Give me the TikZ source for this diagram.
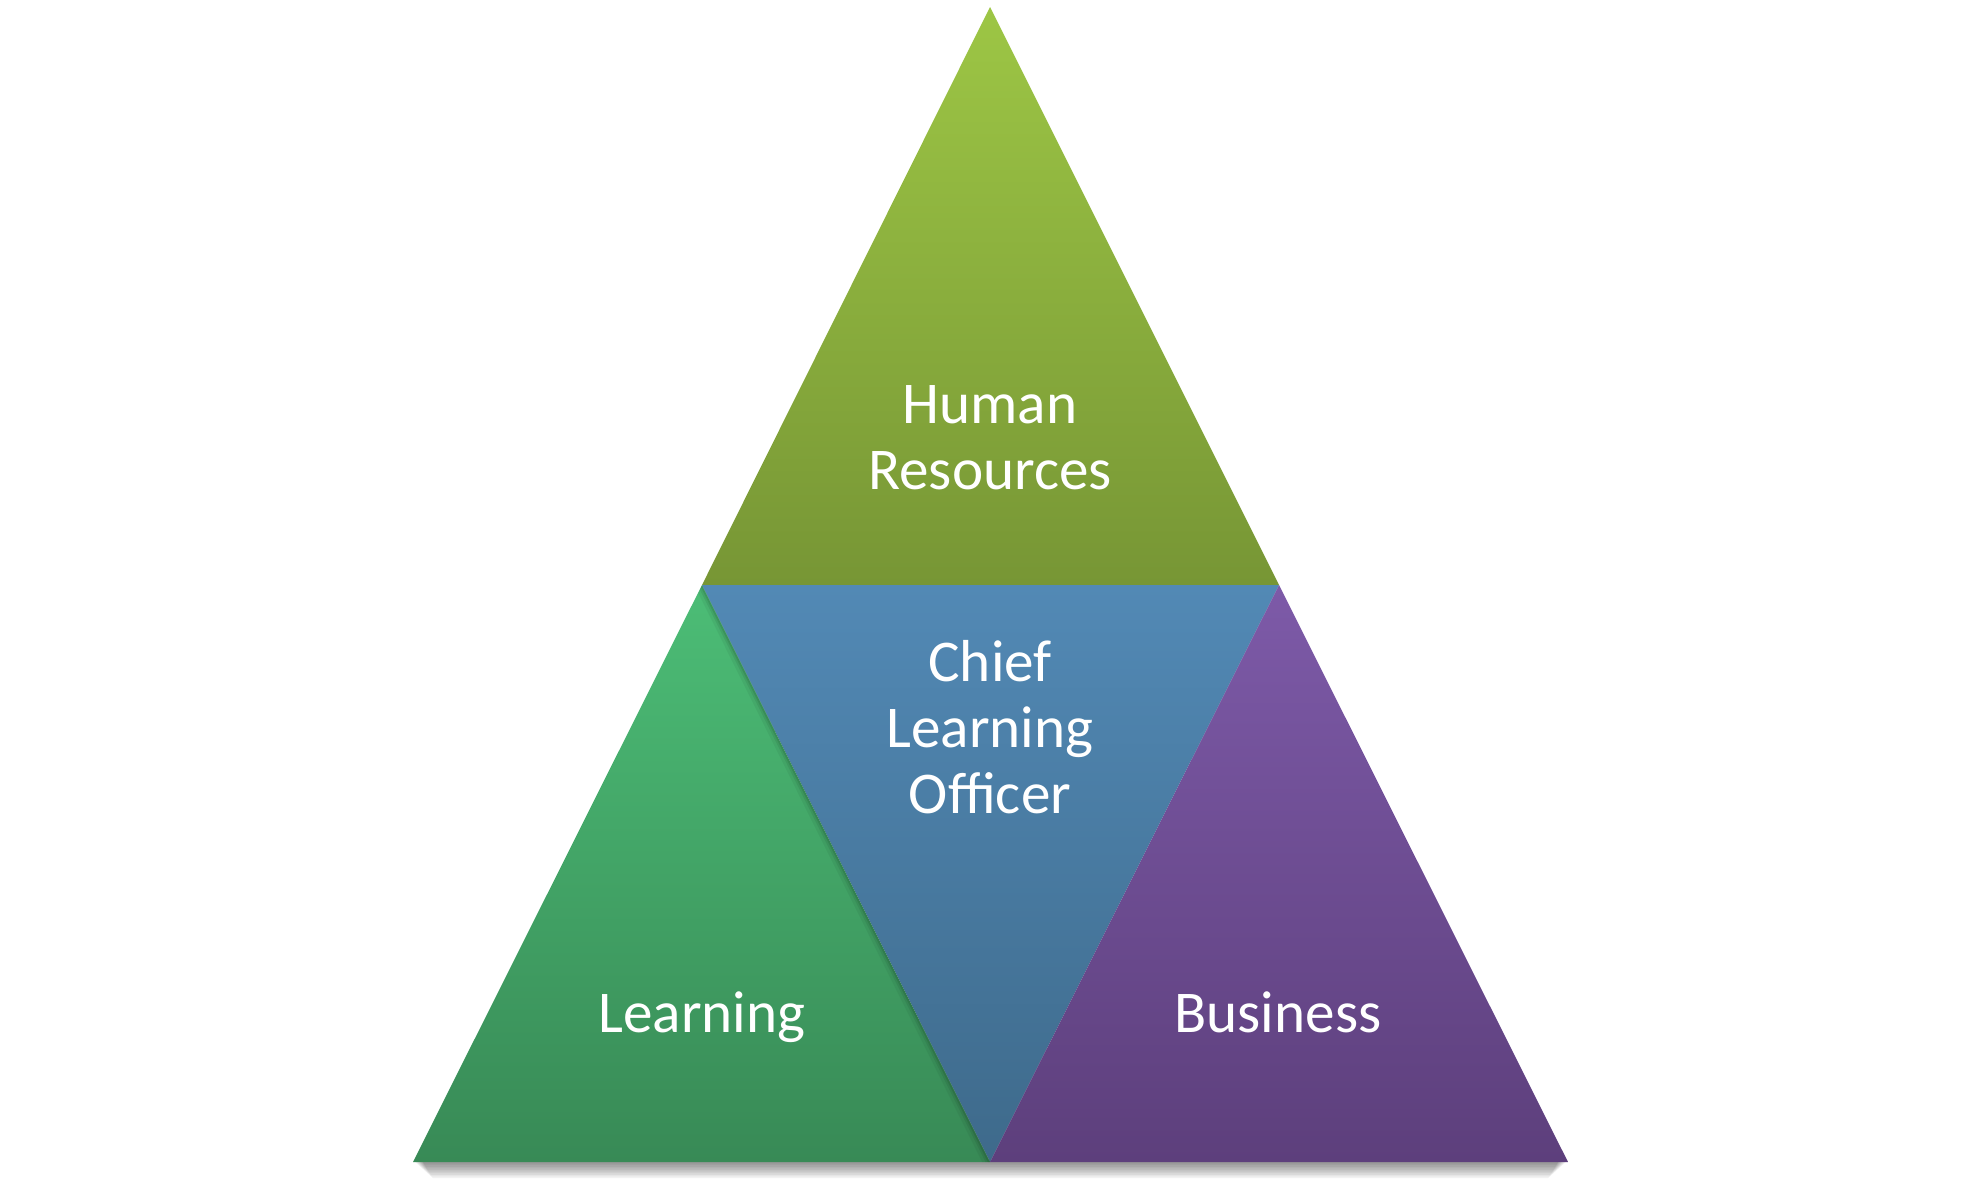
\documentclass[tikz,border=0pt]{standalone}
\usepackage{fontspec}
\setmainfont{Carlito}
\usetikzlibrary{fadings,calc}
\definecolor{hrTop}{HTML}{9DC645}
\definecolor{hrBot}{HTML}{779635}
\definecolor{cloTop}{HTML}{5289B5}
\definecolor{cloBot}{HTML}{3E6A8B}
\definecolor{lrTop}{HTML}{4CBD76}
\definecolor{lrBot}{HTML}{388A56}
\definecolor{bzTop}{HTML}{7D5AA8}
\definecolor{bzBot}{HTML}{5D3F7C}
\tikzset{
  lbl/.style={text=white, font=\fontsize{29.6}{33}\selectfont, align=center, inner sep=0pt},
}
\begin{document}
\begin{tikzpicture}[x=0.5pt,y=-0.5pt]
\useasboundingbox (0,0) rectangle (1980,1185);
\coordinate (A) at (990,7);
\coordinate (ML) at (702,585);
\coordinate (MR) at (1279,585);
\coordinate (BL) at (413,1162);
\coordinate (BM) at (990,1162);
\coordinate (BR) at (1568,1162);
% shadow
\foreach \i in {1,...,10}{
  \fill[black, opacity=0.05] ($(BL)+(10-\i,-2)$) -- ($(BR)+(-10+\i,-2)$) -- ++(-2*\i,1.6*\i+2) -- ($(BL)+(10+\i,1.6*\i)$) -- cycle;
}
% triangles
\shade[top color=hrTop, bottom color=hrBot] (A) -- (MR) -- (ML) -- cycle;
\shade[top color=cloTop, bottom color=cloBot] (ML) -- (MR) -- (BM) -- cycle;
\shade[top color=lrTop, bottom color=lrBot] (ML) -- (BM) -- (BL) -- cycle;
\shade[top color=bzTop, bottom color=bzBot] (MR) -- (BR) -- (BM) -- cycle;
% edge shadow on learning triangle
\begin{scope}
\clip (ML) -- (BM) -- (BL) -- cycle;
\foreach \w/\o in {14/0.05,8/0.07,4/0.09}{
  \draw[black, opacity=\o, line width=\w*0.5pt] (ML) -- (BM);
}
\end{scope}
% labels
\node[lbl] (hr) at (990,438) {Human\\Resources};
\node[lbl] (clo) at (990,727) {Chief\\Learning\\Officer};
\node[lbl, anchor=base] (lr) at (702,1032) {Learning};
\node[lbl, anchor=base] (bz) at (1278,1032) {Business};
\end{tikzpicture}
\end{document}
